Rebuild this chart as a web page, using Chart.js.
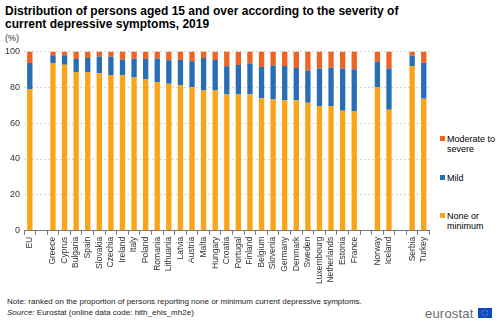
<!DOCTYPE html>
<html>
<head>
<meta charset="utf-8">
<script src="https://cdn.jsdelivr.net/npm/chart.js@4/dist/chart.umd.min.js"></script>
<style>
  body { margin: 0; width: 500px; height: 322px; background: #fff; font-family: Arial, "Liberation Sans", sans-serif; position: relative; overflow: hidden; }
  .title { position: absolute; left: 5px; top: 5px; font-size: 12px; font-weight: bold; line-height: 13px; color: #000; }
  .unit { position: absolute; left: 5px; top: 33px; font-size: 9px; color: #333; }
  .chart-box { position: absolute; left: 1px; top: 42px; width: 435px; height: 244px; }
  .legend { position: absolute; left: 440px; top: 0; }
  .legend-item { position: absolute; left: 0; width: 60px; font-size: 9px; line-height: 10px; color: #000; padding-left: 7px; }
  .legend-item span { position: absolute; left: 0; top: 2px; width: 5px; height: 5px; }
  .note { position: absolute; left: 7px; top: 296px; font-size: 8px; color: #222; line-height: 11px; }
  .logo { position: absolute; left: 425px; top: 306px; font-size: 13px; color: #6a6a6a; letter-spacing: 0.2px; }
  .flag { position: absolute; left: 478px; top: 308px; width: 14px; height: 10px; background: #0e47cb; }
</style>
</head>
<body>
<div class="title">Distribution of persons aged 15 and over according to the severity of<br>current depressive symptoms, 2019</div>
<div class="unit">(%)</div>
<div class="chart-box"><canvas id="depressionChart"></canvas></div>
<div class="legend" id="legend"></div>
<div class="note">Note: ranked on the proportion of persons reporting none or minimum current depressive symptoms.<br><i>Source:</i> Eurostat (online data code: hlth_ehis_mh2e)</div>
<div class="logo">eurostat</div>
<svg class="flag" viewBox="0 0 14 10">
  <rect width="14" height="10" fill="#0e47cb"/>
  <g fill="#ffd617" id="stars"></g>
</svg>

<script>
// countries, with empty slots separating EU / member states / EFTA / candidates
let countries = ['EU', '', 'Greece', 'Cyprus', 'Bulgaria', 'Spain', 'Slovakia', 'Czechia', 'Ireland', 'Italy',
    'Poland', 'Romania', 'Lithuania', 'Latvia', 'Austria', 'Malta', 'Hungary', 'Croatia', 'Portugal',
    'Finland', 'Belgium', 'Slovenia', 'Germany', 'Denmark', 'Sweden', 'Luxembourg', 'Netherlands',
    'Estonia', 'France', '', 'Norway', 'Iceland', '', 'Serbia', 'Turkey'];

let noneOrMinimum = [78.7, null, 93.3, 92.6, 88.5, 88.4, 87.8, 86.9, 86.7, 85.4,
    84.3, 83.0, 81.9, 81.3, 80.0, 78.2, 78.2, 76.0, 76.0,
    76.0, 73.9, 73.2, 72.8, 72.6, 71.3, 69.5, 69.5,
    66.9, 66.5, null, 80.0, 67.5, null, 91.9, 73.6];

let mild = [14.8, null, 4.5, 5.2, 7.2, 7.9, 9.4, 10.1, 8.7, 10.5,
    11.4, 13.1, 13.1, 13.9, 14.5, 18.1, 17.0, 15.7, 16.4,
    17.2, 17.4, 18.9, 19.1, 18.2, 18.0, 20.9, 21.4,
    23.5, 23.5, null, 14.2, 22.9, null, 5.7, 20.1];

let moderateToSevere = [6.5, null, 2.2, 2.2, 4.3, 3.7, 2.8, 3.0, 4.6, 4.1,
    4.3, 3.9, 5.0, 4.8, 5.5, 3.7, 4.8, 8.3, 7.6,
    6.8, 8.7, 7.9, 8.1, 9.2, 10.7, 9.6, 9.1,
    9.6, 10.0, null, 5.7, 9.6, null, 2.4, 6.3];

let yTicks = [0, 20, 40, 60, 80, 100];

// EU flag stars
let stars = document.getElementById('stars');
for (let i = 0; i < 12; i++) {
    let a = i * Math.PI / 6;
    let c = document.createElementNS('http://www.w3.org/2000/svg', 'circle');
    c.setAttribute('cx', 7 + 3 * Math.cos(a));
    c.setAttribute('cy', 5 + 3 * Math.sin(a));
    c.setAttribute('r', 0.45);
    stars.appendChild(c);
}

let ctx = document.getElementById('depressionChart');

let chart = new Chart(ctx, {
    type: 'bar',
    data: {
        labels: countries,
        datasets: [{
            label: 'None or minimum',
            data: noneOrMinimum,
            backgroundColor: '#faa519'
        }, {
            label: 'Mild',
            data: mild,
            backgroundColor: '#286eb4'
        }, {
            label: 'Moderate to severe',
            data: moderateToSevere,
            backgroundColor: '#f06423'
        }]
    },
    options: {
        responsive: true,
        maintainAspectRatio: false,
        animation: false,
        layout: { padding: { top: 0, right: 4, left: 0, bottom: 0 } },
        datasets: {
            bar: { barPercentage: 0.46, categoryPercentage: 1 }
        },
        plugins: {
            legend: { display: false },
            tooltip: { enabled: false }
        },
        scales: {
            x: {
                stacked: true,
                grid: { offset: true, drawOnChartArea: false, drawTicks: true, tickLength: 4, color: '#777' },
                border: { color: '#777' },
                ticks: {
                    autoSkip: false,
                    minRotation: 90,
                    maxRotation: 90,
                    padding: 2,
                    color: '#333',
                    font: { family: 'Arial, "Liberation Sans"', size: 8.5 }
                }
            },
            y: {
                stacked: true,
                min: 0,
                max: 100,
                afterBuildTicks: function(axis) {
                    axis.ticks = yTicks.map(v => ({ value: v }));
                },
                grid: { color: '#d6d6d6', drawTicks: false },
                border: { display: false, dash: [2, 2] },
                ticks: {
                    padding: 4,
                    color: '#333',
                    font: { family: 'Arial, "Liberation Sans"', size: 9 }
                }
            }
        }
    }
});

// legend drawn beside the plot, top entry is the top of the stack
let legendTops = { 'Moderate to severe': 134, 'Mild': 173, 'None or minimum': 211 };
let legend = document.getElementById('legend');
chart.data.datasets.slice().reverse().forEach(function(ds) {
    let item = document.createElement('div');
    item.className = 'legend-item';
    item.style.top = legendTops[ds.label] + 'px';
    item.innerHTML = '<span style="background:' + ds.backgroundColor + '"></span>' + ds.label;
    legend.appendChild(item);
});
</script>
</body>
</html>
